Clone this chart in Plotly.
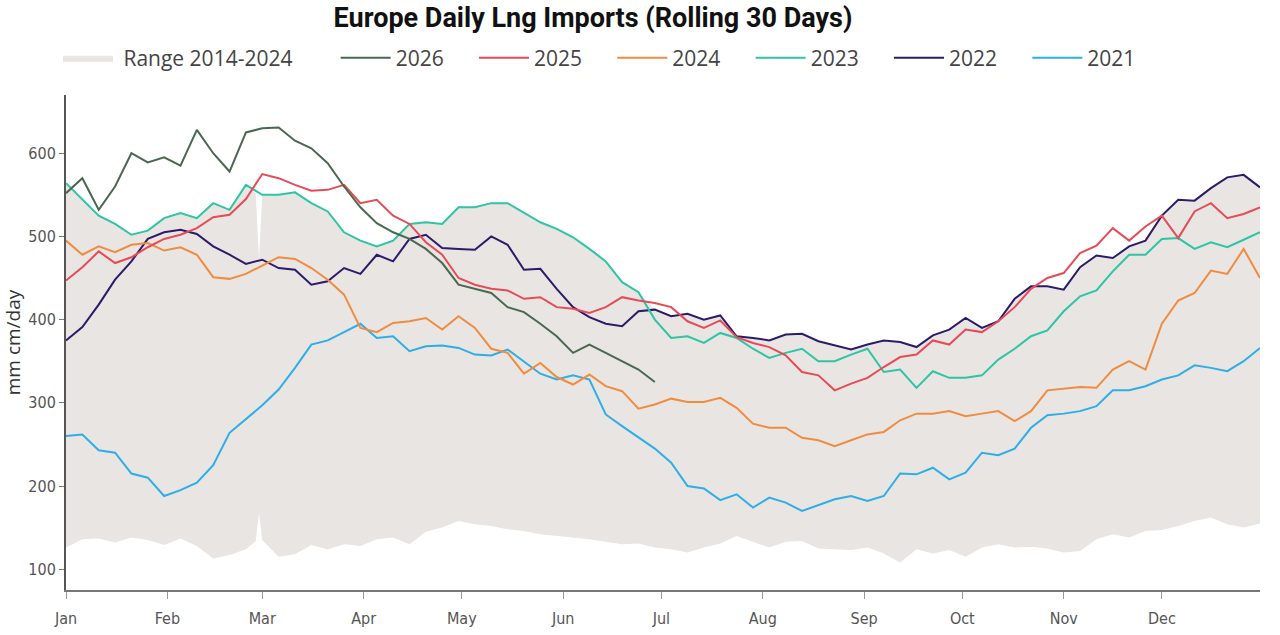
import pandas as pd
import plotly.graph_objects as go

# day offsets from 1 Jan (leap-year calendar), every 5 days
days = list(range(0, 366, 5))

range_upper = [564, 545, 525, 515, 502, 507, 522, 528, 522, 540, 532, 562, 550, 550, 553, 540,
               530, 505, 495, 488, 495, 515, 517, 515, 535, 535, 540, 540, 528, 517, 509, 499,
               485, 470, 445, 433, 412, 404, 407, 400, 405, 380, 378, 375, 382, 383, 374, 369,
               364, 370, 375, 373, 367, 381, 388, 402, 390, 398, 425, 440, 440, 436, 463, 477,
               474, 488, 495, 525, 544, 543, 558, 571, 574, 559]
range_lower = [126, 136, 137, 132, 138, 135, 129, 137, 128, 113, 117, 124, 135, 115, 118, 129,
               124, 130, 128, 136, 138, 130, 145, 150, 158, 154, 152, 148, 146, 142, 140, 138,
               136, 133, 130, 131, 126, 124, 120, 126, 131, 140, 133, 126, 133, 134, 125, 124,
               123, 126, 119, 108, 124, 119, 123, 115, 126, 130, 126, 127, 125, 120, 122, 136,
               142, 138, 146, 147, 152, 158, 162, 154, 150, 155]
# Feb 28 - Mar 1 detail (leap day artefact)
leap_days = [58, 59, 60]
leap_upper = [552, 472, 550]
leap_lower = [134, 168, 134]

y2026 = [552, 570, 532, 560, 600, 589, 595, 585, 628, 600, 578, 625, 630, 631, 615, 606,
         588, 560, 535, 516, 505, 497, 485, 468, 442, 437, 432, 415, 409, 395, 380, 360,
         370, 360, 350, 340, 325]
y2025 = [447, 463, 482, 468, 475, 487, 497, 502, 510, 523, 526, 545, 575, 570, 562, 555,
         556, 562, 540, 544, 525, 515, 493, 478, 450, 442, 437, 435, 425, 427, 415, 413,
         408, 415, 427, 423, 420, 415, 398, 390, 399, 379, 372, 367, 357, 337, 333, 315,
         323, 330, 343, 355, 358, 375, 370, 388, 385, 398, 415, 437, 450, 456, 480, 489,
         510, 495, 512, 525, 498, 530, 540, 522, 527, 535]
y2024 = [495, 478, 488, 481, 490, 492, 483, 487, 478, 451, 449, 455, 465, 475, 473, 462,
         448, 430, 390, 385, 396, 398, 402, 388, 404, 390, 365, 360, 335, 348, 331, 322,
         334, 320, 314, 293, 298, 305, 301, 301, 306, 294, 275, 270, 270, 258, 255, 248,
         255, 262, 265, 279, 287, 287, 290, 284, 287, 290, 278, 290, 315, 317, 319, 318,
         340, 350, 340, 395, 423, 432, 459, 455, 485, 450]
y2023 = [564, 545, 525, 515, 502, 507, 522, 528, 522, 540, 532, 562, 550, 550, 553, 540,
         530, 505, 495, 488, 495, 515, 517, 515, 535, 535, 540, 540, 528, 517, 509, 499,
         485, 470, 445, 433, 400, 378, 380, 372, 384, 378, 365, 354, 360, 365, 350, 350,
         358, 365, 337, 340, 318, 338, 330, 330, 333, 352, 365, 380, 387, 410, 428, 435,
         458, 478, 478, 497, 498, 485, 493, 487, 496, 505]
y2022 = [375, 391, 418, 448, 470, 497, 505, 508, 503, 488, 478, 467, 472, 462, 460, 442,
         446, 462, 455, 478, 470, 497, 502, 486, 485, 484, 500, 490, 460, 461, 437, 415,
         403, 395, 392, 410, 412, 404, 407, 400, 405, 380, 378, 375, 382, 383, 374, 369,
         364, 370, 375, 373, 367, 381, 388, 402, 390, 398, 425, 440, 440, 436, 463, 477,
         474, 488, 495, 525, 544, 543, 558, 571, 574, 559]
y2021 = [260, 262, 243, 240, 215, 210, 188, 195, 204, 225, 264, 280, 297, 316, 342, 370,
         375, 385, 395, 378, 380, 362, 368, 369, 366, 358, 357, 364, 350, 335, 328, 333,
         328, 286, 272, 258, 245, 228, 200, 197, 183, 190, 174, 186, 180, 170, 177, 184,
         188, 182, 188, 215, 214, 222, 208, 216, 240, 237, 245, 270, 285, 287, 290, 296,
         315, 315, 320, 328, 333, 345, 342, 338, 350, 366]

base = pd.Timestamp("2024-01-01")


def to_dates(d):
    return [base + pd.Timedelta(days=int(v)) for v in d]


# merge the leap-day detail into the range bounds
rng = sorted(list(zip(days, range_upper, range_lower)) +
             list(zip(leap_days, leap_upper, leap_lower)))
rng_days = [r[0] for r in rng]
rng_up = [r[1] for r in rng]
rng_lo = [r[2] for r in rng]

PAD = "\u00a0"
THIN = "\u2009"

fig = go.Figure()
fig.add_trace(go.Scatter(x=to_dates(rng_days), y=rng_lo, mode="lines",
                         line=dict(width=0, color="#e8e5e3"), showlegend=False,
                         hoverinfo="skip"))
fig.add_trace(go.Scatter(x=to_dates(rng_days), y=rng_up, mode="lines", fill="tonexty",
                         fillcolor="#e8e5e3", line=dict(width=0, color="#e8e5e3"),
                         name=PAD + "Range 2014-2024" + PAD * 7, legendrank=1))

series = [
    ("2021", y2021, "#2eaee6", 7),
    ("2022", y2022, "#2b1b68", 6),
    ("2023", y2023, "#2ec4a4", 5),
    ("2024", y2024, "#f08c40", 4),
    ("2025", y2025, "#e64b58", 3),
    ("2026", y2026, "#4a6850", 2),
]
for name, vals, col, rank in series:
    fig.add_trace(go.Scatter(x=to_dates(days[:len(vals)]), y=vals, mode="lines",
                             line=dict(color=col, width=2), name=name + PAD * 4 + THIN,
                             legendrank=rank))

tick_font = dict(family="Liberation Sans Narrow, DejaVu Sans Condensed, sans-serif",
                 size=16, color="#555555")

fig.update_layout(
    width=1280, height=635,
    paper_bgcolor="white", plot_bgcolor="white",
    margin=dict(l=66, r=20, t=95, b=45),
    title=dict(text="<b>Europe Daily Lng Imports (Rolling 30 Days)</b>",
               x=593 / 1280, xanchor="center", y=1 - 18 / 635, yanchor="middle",
               xref="container", yref="container",
               font=dict(family="Roboto, Open Sans, sans-serif", size=27, color="#111111")),
    legend=dict(orientation="h", xref="container", yref="container",
                x=58 / 1280, xanchor="left", y=1 - 58 / 635, yanchor="middle",
                traceorder="normal",
                font=dict(family="Open Sans, sans-serif", size=21, color="#444444"),
                itemwidth=50, tracegroupgap=0, bgcolor="rgba(0,0,0,0)"),
    showlegend=True,
)
fig.update_xaxes(
    type="date", range=["2024-01-01", "2024-12-31"],
    tickformat="%b", dtick="M1", tick0="2024-01-01",
    showgrid=False, zeroline=False, automargin=False,
    showline=True, linecolor="#777777", linewidth=2,
    ticks="outside", ticklen=7, tickcolor="#999999", tickwidth=1,
    ticklabelstandoff=6,
    tickfont=tick_font,
)
fig.update_yaxes(
    range=[75, 670], tickvals=[100, 200, 300, 400, 500, 600],
    showgrid=False, zeroline=False, automargin=False,
    showline=True, linecolor="#555555", linewidth=2,
    ticks="outside", ticklen=5, tickcolor="#777777", tickwidth=1,
    tickfont=tick_font,
    title=dict(text="mm cm/day", standoff=8,
               font=dict(family="Open Sans, sans-serif", size=19, color="#333333")),
)

fig.write_html("out.html")
